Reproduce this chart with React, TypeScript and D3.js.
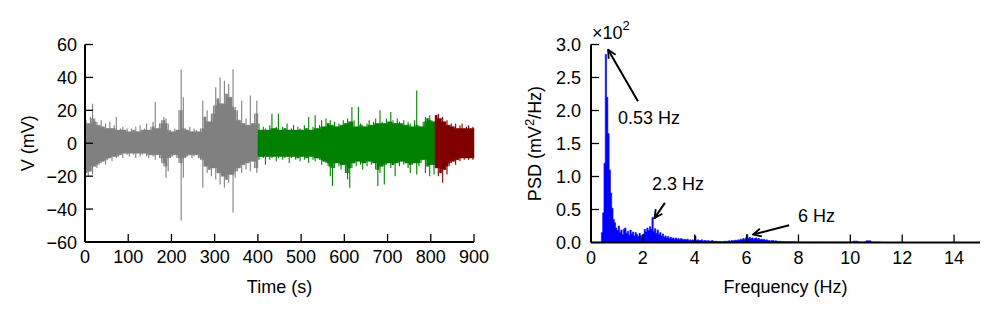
import React from 'react';
import * as d3 from 'd3';

// Signal envelope, one max/min pair per 5 s bin (mV)
const binSeconds = 5;
const grayStart = 0;
const grayHi = [14, 12, 16, 24, 15, 13, 11, 14, 10, 12, 9, 13, 9, 11, 16, 8, 9, 10, 8, 9,
  7, 9, 8, 10, 7, 11, 8, 9, 12, 8, 10, 13, 25, 9, 12, 14, 16, 15, 12, 8,
  7, 9, 8, 20, 45, 28, 9, 8, 10, 7, 9, 8, 7, 9, 26, 16, 20, 13, 18, 23,
  34, 27, 40, 24, 38, 30, 36, 28, 45, 22, 20, 14, 26, 12, 15, 11, 29, 12, 18, 26];
const grayLo = [-18, -20, -17, -19, -14, -15, -13, -12, -11, -13, -10, -9, -11, -8, -9, -8, -7, -9, -6, -7,
  -8, -6, -7, -9, -6, -8, -7, -6, -8, -9, -7, -8, -10, -7, -9, -12, -14, -21, -17, -9,
  -8, -7, -9, -12, -47, -21, -9, -8, -7, -9, -8, -7, -9, -10, -27, -14, -18, -16, -20, -15,
  -22, -18, -25, -20, -27, -22, -24, -19, -42, -21, -17, -15, -18, -13, -16, -12, -17, -11, -15, -18];

const greenStart = 400;
const greenHi = [12, 8, 10, 9, 8, 11, 18, 9, 10, 18, 8, 10, 9, 12, 8, 9, 11, 8, 10, 9,
  8, 11, 9, 16, 8, 10, 17, 9, 11, 14, 10, 15, 12, 14, 11, 13, 10, 12, 11, 14,
  12, 15, 13, 22, 14, 10, 22, 12, 11, 10, 12, 14, 11, 13, 15, 12, 20, 13, 12, 15,
  13, 19, 14, 12, 15, 13, 12, 14, 11, 13, 12, 10, 14, 32, 11, 10, 13, 16, 15, 17,
  14, 13];
const greenLo = [-10, -8, -9, -13, -8, -10, -9, -8, -11, -9, -8, -10, -9, -8, -12, -9, -8, -10, -9, -11,
  -8, -10, -9, -12, -8, -10, -11, -9, -10, -13, -11, -12, -14, -20, -26, -15, -12, -14, -16, -13,
  -18, -22, -27, -15, -12, -14, -11, -13, -16, -12, -14, -11, -13, -12, -16, -26, -18, -14, -25, -13,
  -12, -15, -13, -20, -12, -14, -11, -13, -12, -15, -18, -13, -12, -19, -14, -12, -10, -18, -14, -20,
  -13, -19];

const redStart = 810;
const redHi = [17, 18, 15, 16, 13, 14, 11, 12, 10, 12, 9, 11, 12, 9, 10, 11, 9, 10];
const redLo = [-15, -20, -18, -24, -16, -19, -14, -12, -11, -13, -10, -11, -9, -10, -9, -10, -9, -10];

// PSD (x10^2 mV^2/Hz), 0.05 Hz steps from 0.35 Hz
const psdStart = 0.35;
const psdStep = 0.05;
const psdValues = [0, 0.15, 0.45, 1.2, 2.85, 2.2, 1.65, 1.1, 0.75, 0.52, 0.35, 0.3, 0.22,
  0.18, 0.25, 0.15, 0.19, 0.12, 0.2, 0.22, 0.14, 0.17, 0.11, 0.19, 0.13, 0.16, 0.1, 0.15, 0.12, 0.09, 0.14, 0.11, 0.08,
  0.13, 0.2, 0.16, 0.22, 0.18, 0.24, 0.2, 0.38, 0.17, 0.21, 0.14, 0.19, 0.12, 0.15, 0.1, 0.13, 0.08, 0.1, 0.07, 0.09,
  0.06, 0.08, 0.06, 0.07, 0.05, 0.07, 0.05, 0.06, 0.04, 0.06, 0.05, 0.04, 0.05, 0.04, 0.05, 0.03, 0.04, 0.03, 0.04, 0.03,
  0.1, 0.03, 0.04, 0.03, 0.03, 0.04, 0.02, 0.03, 0.03, 0.02, 0.03, 0.02, 0.02, 0.03, 0.02, 0.015, 0.02, 0.015, 0.01, 0.015,
  0.01, 0.01, 0.015, 0.02, 0.015, 0.02, 0.025, 0.02, 0.03, 0.025, 0.03, 0.035, 0.03, 0.04, 0.035, 0.05, 0.04, 0.06, 0.05, 0.07,
  0.12, 0.06, 0.08, 0.06, 0.07, 0.05, 0.06, 0.07, 0.05, 0.06, 0.04, 0.05, 0.04, 0.05, 0.03, 0.04, 0.03, 0.03, 0.02, 0.03,
  0.03, 0.02, 0.025, 0.02, 0.015, 0.02, 0.015, 0.01, 0.015, 0.01, 0.01];
const psdTailFreq = [7.6, 7.9, 8.3, 8.7, 9.1, 9.5, 9.9, 10.1, 10.3, 10.6, 10.8, 11.2];
const psdTailValues = [0.01, 0.006, 0.004, 0.005, 0.004, 0.005, 0.004, 0.02, 0.006, 0.025, 0.005, 0.003];

const timeTicks = [0, 100, 200, 300, 400, 500, 600, 700, 800, 900];
const voltTicks = [-60, -40, -20, 0, 20, 40, 60];
const freqTicks = [0, 2, 4, 6, 8, 10, 12, 14];
const psdTicks = [0, 0.5, 1.0, 1.5, 2.0, 2.5, 3.0];

// annotations: [label, textF, textV, fromF, fromV, tipF, tipV]
const peakNotes: [string, number, number, number, number, number, number][] = [
  ['0.53 Hz', 1.04, 1.8, 1.81, 2.14, 0.66, 2.92],
  ['2.3 Hz', 2.35, 0.8, 2.85, 0.6, 2.45, 0.37],
  ['6 Hz', 7.98, 0.31, 7.64, 0.26, 6.25, 0.12],
];

const font = '"Liberation Sans", Arial, sans-serif';

type Bin = { t: number; hi: number; lo: number; coreHi: number; coreLo: number };

function toBins(start: number, hi: number[], lo: number[]): Bin[] {
  const n = hi.length;
  const bins = hi.map((h, i) => {
    const a = Math.max(0, i - 1), b = Math.min(n - 1, i + 1);
    return {
      t: start + i * binSeconds,
      hi: h,
      lo: lo[i],
      // dense core = quietest neighbour, spikes stick out of it
      coreHi: Math.min(hi[a], h, hi[b]),
      coreLo: Math.max(lo[a], lo[i], lo[b]),
    };
  });
  const last = bins[n - 1];
  bins.push({ ...last, t: start + n * binSeconds });
  return bins;
}

export default function App() {
  const W = 997, H = 314;

  const xT = d3.scaleLinear().domain([0, 900]).range([85, 474]);
  const yV = d3.scaleLinear().domain([-60, 60]).range([242, 44.5]);
  const xF = d3.scaleLinear().domain([0, 15]).range([591, 980]);
  const yP = d3.scaleLinear().domain([0, 3]).range([242.5, 44.5]);

  const coreArea = d3.area<Bin>()
    .x(d => xT(d.t)).y0(d => yV(d.coreLo)).y1(d => yV(d.coreHi))
    .curve(d3.curveStepAfter);
  const segments = [
    { color: '#808080', bins: toBins(grayStart, grayHi, grayLo) },
    { color: '#008000', bins: toBins(greenStart, greenHi, greenLo) },
    { color: '#800000', bins: toBins(redStart, redHi, redLo) },
  ];

  const psdPts: [number, number][] = psdValues.map((v, i) => [psdStart + i * psdStep, v]);
  psdTailFreq.forEach((f, i) => psdPts.push([f, psdTailValues[i]]));
  const psdArea = d3.area<[number, number]>()
    .x(d => xF(d[0])).y0(yP(0)).y1(d => yP(d[1])).curve(d3.curveStepAfter);

  const tickLen = 8;

  return (
    <svg width={W} height={H} style={{ position: 'absolute', left: 0, top: 0, background: '#fff' }}
      fontFamily={font} fontSize={18}>
      <defs>
        <marker id="arr" viewBox="0 0 10 10" refX="9" refY="5" markerWidth="10" markerHeight="10"
          orient="auto-start-reverse" markerUnits="userSpaceOnUse">
          <path d="M1,1 L9,5 L1,9" fill="none" stroke="#000" strokeWidth={1.8} />
        </marker>
      </defs>

      {/* left: time series */}
      {segments.map((s, i) => (
        <g key={i}>
          <path d={coreArea(s.bins) || ''} fill={s.color} stroke={s.color} strokeWidth={0.5} />
          {s.bins.slice(0, -1).map((b, j) => (
            <line key={j} x1={xT(b.t + binSeconds / 2)} x2={xT(b.t + binSeconds / 2)}
              y1={yV(b.lo)} y2={yV(b.hi)} stroke={s.color} strokeWidth={1.1} />
          ))}
        </g>
      ))}
      <g stroke="#000">
        <line x1={xT(0)} x2={xT(900)} y1={yV(-60)} y2={yV(-60)} strokeWidth={2} />
        <line x1={xT(0)} x2={xT(0)} y1={yV(-60)} y2={yV(60)} strokeWidth={2} />
        {timeTicks.map(t => (
          <line key={t} x1={xT(t)} x2={xT(t)} y1={yV(-60)} y2={yV(-60) - tickLen} strokeWidth={1.3} />
        ))}
        {voltTicks.map(v => (
          <line key={v} x1={xT(0)} x2={xT(0) + tickLen} y1={yV(v)} y2={yV(v)} strokeWidth={1.3} />
        ))}
      </g>
      {timeTicks.map(t => (
        <text key={t} x={xT(t)} y={yV(-60) + 21} textAnchor="middle">{t}</text>
      ))}
      {voltTicks.map(v => (
        <text key={v} x={xT(0) - 8} y={yV(v) + 6.5} textAnchor="end">{v < 0 ? '\u2212' + Math.abs(v) : v}</text>
      ))}
      <text x={(xT(0) + xT(900)) / 2} y={293} textAnchor="middle">Time (s)</text>
      <text transform={`translate(34,${yV(0)}) rotate(-90)`} textAnchor="middle">V (mV)</text>

      {/* right: PSD */}
      <path d={psdArea(psdPts) || ''} fill="#0000ff" stroke="#0000ff" strokeWidth={0.6} />
      <g stroke="#000">
        <line x1={xF(0)} x2={xF(15)} y1={yP(0)} y2={yP(0)} strokeWidth={2} />
        <line x1={xF(0)} x2={xF(0)} y1={yP(0)} y2={yP(3)} strokeWidth={2} />
        {freqTicks.map(f => (
          <line key={f} x1={xF(f)} x2={xF(f)} y1={yP(0)} y2={yP(0) - tickLen} strokeWidth={1.3} />
        ))}
        {psdTicks.map(p => (
          <line key={p} x1={xF(0)} x2={xF(0) + tickLen} y1={yP(p)} y2={yP(p)} strokeWidth={1.3} />
        ))}
      </g>
      {freqTicks.map(f => (
        <text key={f} x={xF(f)} y={yP(0) + 21} textAnchor="middle">{f}</text>
      ))}
      {psdTicks.map(p => (
        <text key={p} x={xF(0) - 10} y={yP(p) + 6.5} textAnchor="end">{p.toFixed(1)}</text>
      ))}
      <text x={592} y={39}>{'\u00d7'}10<tspan dy={-9} fontSize={13}>2</tspan></text>
      <text x={(xF(0) + xF(15)) / 2} y={293} textAnchor="middle">Frequency (Hz)</text>
      <text transform={`translate(541,${yP(1.5)}) rotate(-90)`} textAnchor="middle">
        PSD (mV<tspan dy={-7} fontSize={13}>2</tspan><tspan dy={7}>/Hz)</tspan>
      </text>

      {peakNotes.map(([label, tf, tv, f0, v0, f1, v1]) => (
        <g key={label}>
          <line x1={xF(f0)} y1={yP(v0)} x2={xF(f1)} y2={yP(v1)} stroke="#000" strokeWidth={2}
            markerEnd="url(#arr)" />
          <text x={xF(tf)} y={yP(tv)}>{label}</text>
        </g>
      ))}
    </svg>
  );
}
